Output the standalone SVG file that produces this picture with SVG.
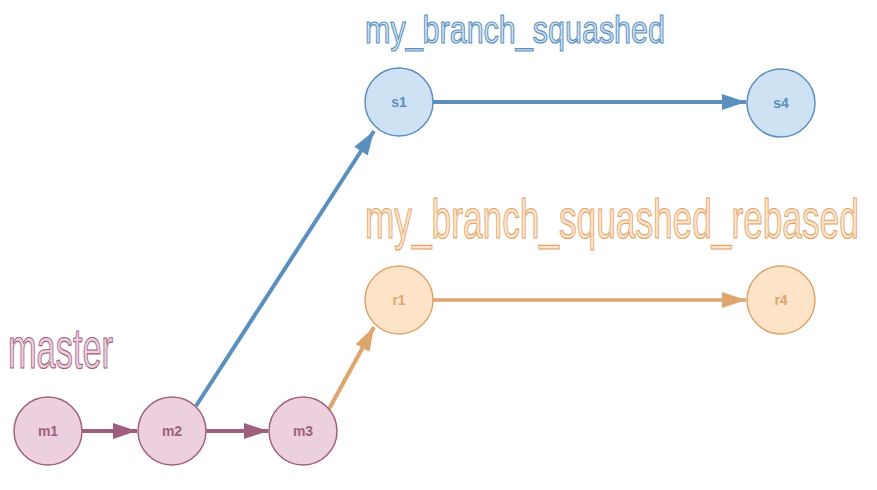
<svg xmlns="http://www.w3.org/2000/svg" width="877" height="490" viewBox="0 0 877 490">
<style>
.lbl{font-family:"Liberation Sans Narrow","Liberation Sans",Arial,sans-serif;stroke-width:1.2}
.nt{font-family:"Liberation Sans",Arial,sans-serif;font-weight:bold;font-size:14px;text-anchor:middle}
.pk circle{fill:#ecd0dd;stroke:#a0607e;stroke-width:1.5}
.pk text{fill:#9e5f7d}
.bl circle{fill:#cfe2f4;stroke:#5b8fbe;stroke-width:1.5}
.bl text{fill:#5b8fbe}
.or circle{fill:#fde4c9;stroke:#dea56c;stroke-width:1.5}
.or text{fill:#dea56c}
</style>
<defs>
<marker id="ap" markerUnits="userSpaceOnUse" markerWidth="26" markerHeight="18" refX="24" refY="8" orient="auto"><path d="M0,0 L24,8 L0,16 z" fill="#9e5f7d"/></marker>
<marker id="ab" markerUnits="userSpaceOnUse" markerWidth="26" markerHeight="18" refX="24" refY="8" orient="auto"><path d="M0,0 L24,8 L0,16 z" fill="#5b8fbe"/></marker>
<marker id="ao" markerUnits="userSpaceOnUse" markerWidth="26" markerHeight="18" refX="24" refY="8" orient="auto"><path d="M0,0 L24,8 L0,16 z" fill="#dea56c"/></marker>
</defs>
<rect width="877" height="490" fill="#ffffff"/>
<g id="labels">
<text class="lbl" x="8" y="368" font-size="58" textLength="105" lengthAdjust="spacingAndGlyphs" fill="#ecd0dd" stroke="#a0607e">master</text>
<text class="lbl" x="365" y="43" font-size="39" textLength="300" lengthAdjust="spacingAndGlyphs" fill="#cfe2f4" stroke="#5b8fbe">my_branch_squashed</text>
<text class="lbl" transform="translate(365,238) scale(0.6,1)" x="0" y="0" font-size="55" textLength="823" lengthAdjust="spacingAndGlyphs" fill="#fde4c9" stroke="#dea56c" stroke-width="1.5">my_branch_squashed_rebased</text>
</g>
<g id="connectors" fill="none" stroke-width="4">
<line x1="82" y1="431" x2="137" y2="431" stroke="#9e5f7d" marker-end="url(#ap)"/>
<line x1="206" y1="431" x2="268" y2="431" stroke="#9e5f7d" marker-end="url(#ap)"/>
<line x1="196" y1="406" x2="374" y2="131" stroke="#5b8fbe" marker-end="url(#ab)"/>
<line x1="433" y1="102" x2="746" y2="102" stroke="#5b8fbe" marker-end="url(#ab)"/>
<line x1="329" y1="409" x2="374" y2="327" stroke="#dea56c" marker-end="url(#ao)"/>
<line x1="433" y1="300" x2="746" y2="300" stroke="#dea56c" stroke-width="3.5" marker-end="url(#ao)"/>
</g>
<g id="m1" class="pk"><circle cx="48" cy="431" r="34"/><text class="nt" x="48" y="436">m1</text></g>
<g id="m2" class="pk"><circle cx="172" cy="431" r="34"/><text class="nt" x="172" y="436">m2</text></g>
<g id="m3" class="pk"><circle cx="303" cy="431" r="34"/><text class="nt" x="303" y="436">m3</text></g>
<g id="s1" class="bl"><circle cx="399" cy="102" r="34"/><text class="nt" x="399" y="107">s1</text></g>
<g id="s4" class="bl"><circle cx="781" cy="103" r="34"/><text class="nt" x="781" y="108">s4</text></g>
<g id="r1" class="or"><circle cx="399" cy="300" r="34"/><text class="nt" x="399" y="305">r1</text></g>
<g id="r4" class="or"><circle cx="781" cy="300" r="34"/><text class="nt" x="781" y="305">r4</text></g>
</svg>
